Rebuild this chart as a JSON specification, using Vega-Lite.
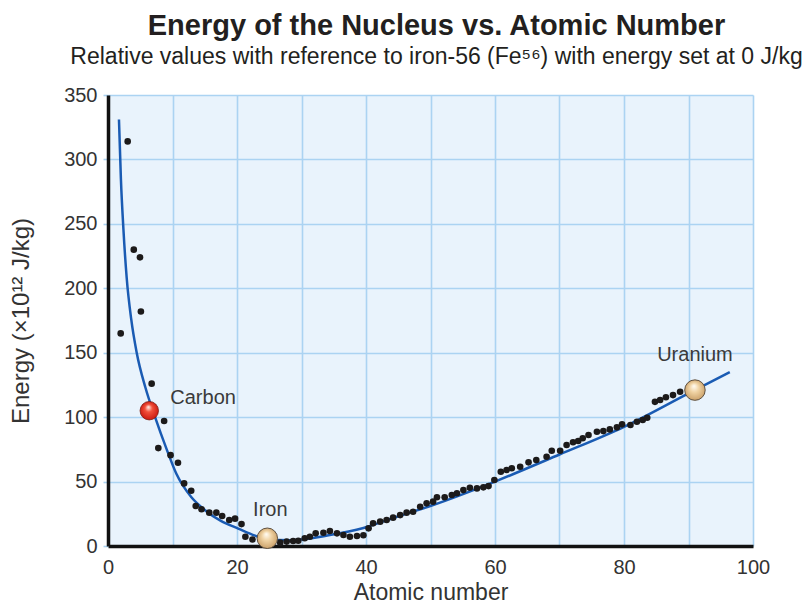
{
  "$schema": "https://vega.github.io/schema/vega-lite/v6.json",
  "width": 645,
  "height": 451,
  "autosize": {"type": "none"},
  "padding": {"left": 108, "top": 95, "right": 56, "bottom": 62},
  "background": "white",
  "title": {
    "text": "Energy of the Nucleus vs. Atomic Number",
    "subtitle": "Relative values with reference to iron-56 (Fe⁵⁶) with energy set at 0 J/kg",
    "anchor": "middle",
    "dx": 6,
    "font": "Liberation Sans",
    "fontSize": 29,
    "fontWeight": "bold",
    "color": "#231f20",
    "subtitleFont": "Liberation Sans",
    "subtitleFontSize": 23,
    "subtitleColor": "#231f20",
    "subtitlePadding": 5,
    "offset": 16
  },
  "config": {
    "view": {"fill": "#e9f3fc", "stroke": null},
    "axis": {
      "labelFont": "Liberation Sans",
      "titleFont": "Liberation Sans",
      "labelFontSize": 20,
      "titleFontSize": 23,
      "titleFontWeight": "normal",
      "labelColor": "#333333",
      "titleColor": "#333333",
      "gridColor": "#abd3f2",
      "gridWidth": 1.6,
      "gridOpacity": 1,
      "domainColor": "#111111",
      "domainWidth": 3.5,
      "tickColor": "#abd3f2",
      "tickWidth": 1.6
    }
  },
  "datasets": {
    "dots": [
      {"z": 1.97, "e": 165}, {"z": 3.05, "e": 314}, {"z": 4.0, "e": 230}, {"z": 4.96, "e": 224},
      {"z": 5.1, "e": 182}, {"z": 6.77, "e": 126}, {"z": 8.7, "e": 97}, {"z": 7.8, "e": 76},
      {"z": 9.7, "e": 70.5}, {"z": 10.85, "e": 64.6}, {"z": 11.8, "e": 48.6}, {"z": 12.9, "e": 42.9},
      {"z": 13.6, "e": 31}, {"z": 14.5, "e": 28.5}, {"z": 15.7, "e": 25.9}, {"z": 16.8, "e": 25.9},
      {"z": 17.7, "e": 23.3}, {"z": 18.8, "e": 20.2}, {"z": 19.7, "e": 21.2}, {"z": 20.7, "e": 17},
      {"z": 21.3, "e": 7.2}, {"z": 22.4, "e": 5}, {"z": 26.7, "e": 2.6}, {"z": 27.7, "e": 3.4},
      {"z": 28.7, "e": 3.9}, {"z": 29.5, "e": 4.1}, {"z": 30.5, "e": 6}, {"z": 31.3, "e": 7.2},
      {"z": 32.2, "e": 9.8}, {"z": 33.4, "e": 10.3}, {"z": 34.4, "e": 11.6}, {"z": 35.5, "e": 9.8},
      {"z": 36.5, "e": 8.5}, {"z": 37.5, "e": 7.2}, {"z": 38.6, "e": 7.8}, {"z": 39.6, "e": 8.3},
      {"z": 40.4, "e": 13.7}, {"z": 41.1, "e": 17.6}, {"z": 42.2, "e": 18.9}, {"z": 43.2, "e": 20.2},
      {"z": 44.2, "e": 22}, {"z": 45.3, "e": 24}, {"z": 46.3, "e": 25.9}, {"z": 47.3, "e": 26.6},
      {"z": 48.4, "e": 30.5}, {"z": 49.4, "e": 33.1}, {"z": 50.4, "e": 34.4}, {"z": 51, "e": 37.8},
      {"z": 52.2, "e": 37.8}, {"z": 53.3, "e": 39.6}, {"z": 54.1, "e": 40.9}, {"z": 55.1, "e": 43.4},
      {"z": 56.1, "e": 45.2}, {"z": 57.2, "e": 44.7}, {"z": 58.2, "e": 45.5}, {"z": 59, "e": 46.5},
      {"z": 59.9, "e": 51.2}, {"z": 60.9, "e": 57.6}, {"z": 61.8, "e": 59}, {"z": 62.6, "e": 60.3},
      {"z": 63.9, "e": 61.5}, {"z": 65.2, "e": 64.9}, {"z": 66.4, "e": 66.7}, {"z": 68, "e": 69.3},
      {"z": 68.8, "e": 73.9}, {"z": 70.1, "e": 73.9}, {"z": 71.1, "e": 78.4}, {"z": 72.1, "e": 80.5},
      {"z": 72.9, "e": 81.5}, {"z": 73.6, "e": 83.6}, {"z": 74.5, "e": 86.1}, {"z": 75.8, "e": 88.7},
      {"z": 76.8, "e": 89.2}, {"z": 77.8, "e": 90.5}, {"z": 78.9, "e": 92.1}, {"z": 79.7, "e": 94.4},
      {"z": 81, "e": 93.9}, {"z": 82, "e": 96.4}, {"z": 82.9, "e": 97.8}, {"z": 83.6, "e": 99.5},
      {"z": 84.8, "e": 111.9}, {"z": 85.6, "e": 113.3}, {"z": 86.5, "e": 115.4}, {"z": 87.6, "e": 117.1},
      {"z": 88.7, "e": 119.7}
    ],
    "fit": [
      {"z": 1.7, "e": 331}, {"z": 2.0, "e": 285}, {"z": 2.4, "e": 245}, {"z": 2.9, "e": 208},
      {"z": 3.6, "e": 176}, {"z": 4.45, "e": 150}, {"z": 5.8, "e": 123}, {"z": 7.3, "e": 100},
      {"z": 9.1, "e": 75}, {"z": 10.6, "e": 56}, {"z": 12.9, "e": 38}, {"z": 15, "e": 28},
      {"z": 17.5, "e": 19.5}, {"z": 20.2, "e": 13.5}, {"z": 22.8, "e": 8}, {"z": 24.8, "e": 5},
      {"z": 28.2, "e": 4.5}, {"z": 34.4, "e": 8.5}, {"z": 39.6, "e": 14}, {"z": 44.8, "e": 22.7},
      {"z": 50.4, "e": 31.8}, {"z": 60, "e": 50}, {"z": 70, "e": 71}, {"z": 80, "e": 92.5},
      {"z": 90, "e": 118.5}, {"z": 96.4, "e": 135}
    ],
    "elements": [
      {"name": "Carbon", "z": 6.4, "e": 105},
      {"name": "Iron", "z": 24.7, "e": 6},
      {"name": "Uranium", "z": 91, "e": 121}
    ]
  },
  "encoding": {
    "x": {
      "field": "z", "type": "quantitative",
      "scale": {"domain": [0, 100], "nice": false},
      "axis": {
        "title": "Atomic number",
        "values": [0, 10, 20, 30, 40, 50, 60, 70, 80, 90, 100],
        "labelExpr": "datum.value % 20 === 0 ? datum.label : ''",
        "ticks": false,
        "labelPadding": 11,
        "titlePadding": 4,
        "labelFlush": false
      }
    },
    "y": {
      "field": "e", "type": "quantitative",
      "scale": {"domain": [0, 350], "nice": false},
      "axis": {
        "title": "Energy (×10¹² J/kg)",
        "titleFontSize": 24,
        "values": [0, 50, 100, 150, 200, 250, 300, 350],
        "tickSize": 5,
        "labelPadding": 6,
        "titlePadding": 30,
        "labelFlush": false
      }
    }
  },
  "layer": [
    {
      "data": {"name": "fit"},
      "mark": {"type": "line", "interpolate": "monotone", "color": "#1a5bb3", "strokeWidth": 2.5}
    },
    {
      "data": {"name": "dots"},
      "mark": {"type": "circle", "size": 44, "color": "#1c1a1a", "opacity": 1}
    },
    {
      "data": {"name": "elements"},
      "transform": [{"filter": "datum.name === 'Carbon'"}],
      "mark": {
        "type": "circle", "size": 340, "opacity": 1, "stroke": "#7a1a10", "strokeWidth": 0.8,
        "fill": {
          "gradient": "radial",
          "x1": 0.45, "y1": 0.3, "r1": 0.02,
          "x2": 0.5, "y2": 0.5, "r2": 0.55,
          "stops": [
            {"offset": 0, "color": "#ffe8e0"},
            {"offset": 0.35, "color": "#f2503a"},
            {"offset": 1, "color": "#c8140c"}
          ]
        }
      }
    },
    {
      "data": {"name": "elements"},
      "transform": [{"filter": "datum.name !== 'Carbon'"}],
      "mark": {
        "type": "circle", "size": 420, "opacity": 1, "stroke": "#5e5040", "strokeWidth": 1,
        "fill": {
          "gradient": "radial",
          "x1": 0.45, "y1": 0.3, "r1": 0.02,
          "x2": 0.5, "y2": 0.5, "r2": 0.55,
          "stops": [
            {"offset": 0, "color": "#fffaf0"},
            {"offset": 0.4, "color": "#f0d3a4"},
            {"offset": 1, "color": "#c79c64"}
          ]
        }
      }
    },
    {
      "data": {"name": "elements"},
      "transform": [{"filter": "datum.name === 'Carbon'"}],
      "mark": {"type": "text", "align": "left", "baseline": "middle", "dx": 21, "dy": -13, "font": "Liberation Sans", "fontSize": 20, "color": "#3a3a3a"},
      "encoding": {"text": {"field": "name"}}
    },
    {
      "data": {"name": "elements"},
      "transform": [{"filter": "datum.name === 'Iron'"}],
      "mark": {"type": "text", "align": "center", "baseline": "middle", "dx": 3, "dy": -28, "font": "Liberation Sans", "fontSize": 20, "color": "#3a3a3a"},
      "encoding": {"text": {"field": "name"}}
    },
    {
      "data": {"name": "elements"},
      "transform": [{"filter": "datum.name === 'Uranium'"}],
      "mark": {"type": "text", "align": "center", "baseline": "middle", "dy": -35, "font": "Liberation Sans", "fontSize": 20, "color": "#3a3a3a"},
      "encoding": {"text": {"field": "name"}}
    }
  ]
}
